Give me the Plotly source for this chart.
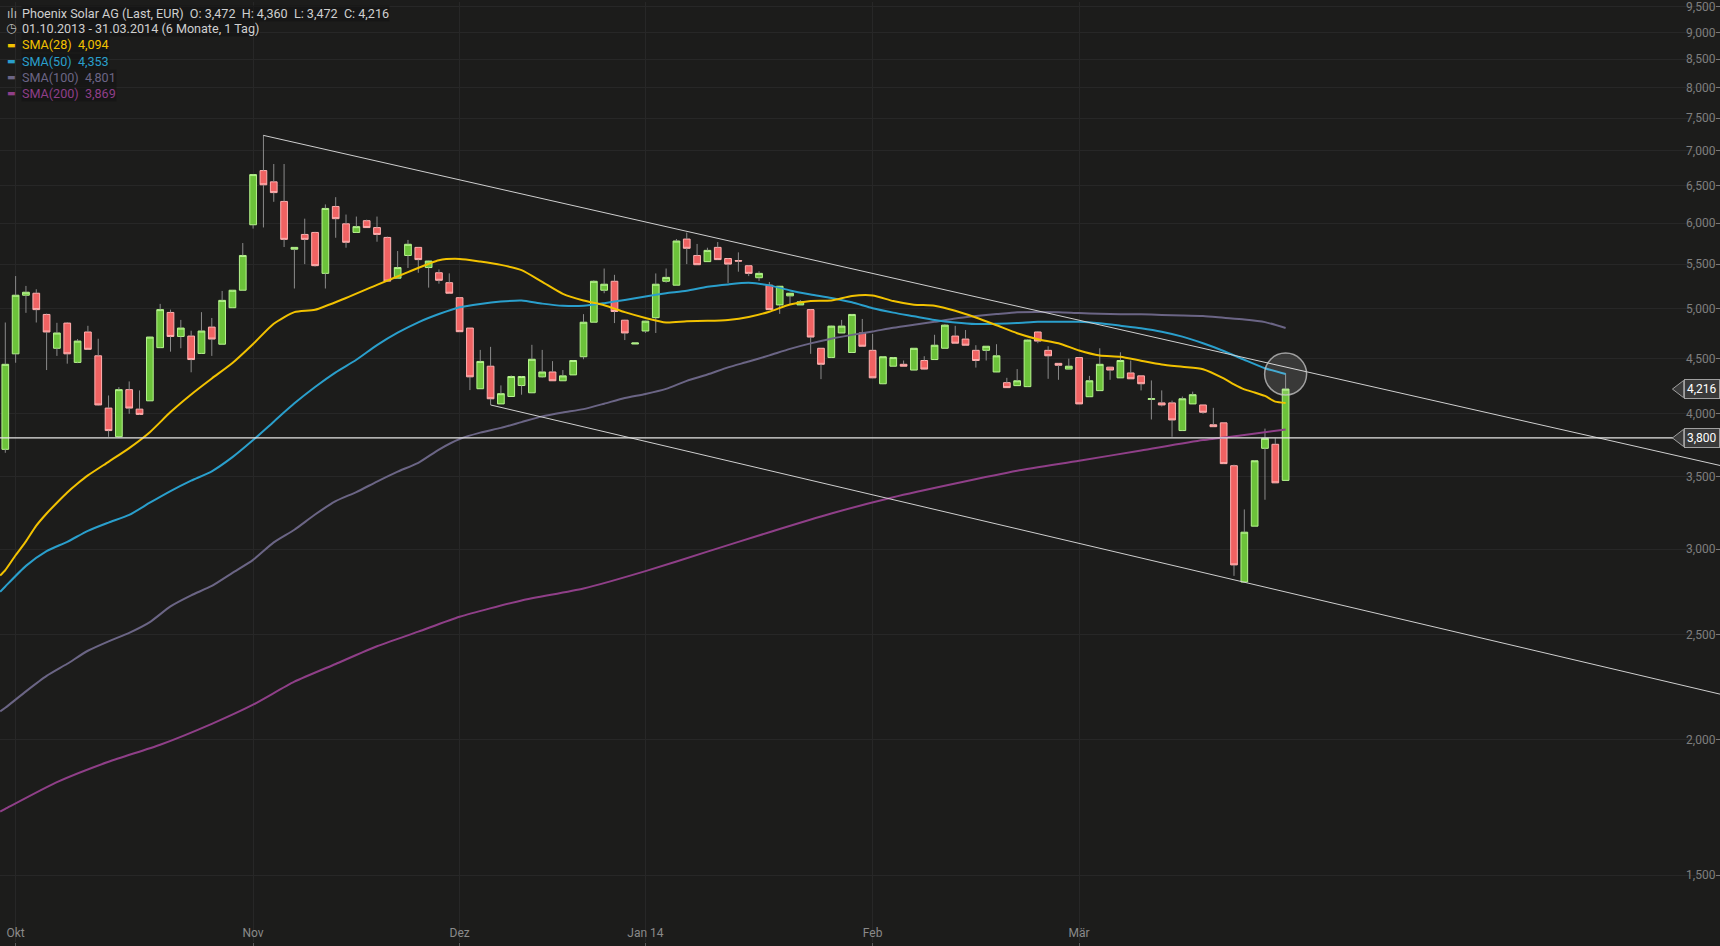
import math
import plotly.graph_objects as go

# ---------------- data (EUR) ----------------
OPEN = [3.709, 4.544, 5.147, 5.169, 4.941, 4.598, 4.851, 4.462, 4.760, 4.525,
        4.049, 3.810, 4.211, 4.040, 4.112, 4.604, 4.962, 4.715, 4.719, 4.548,
        4.810, 4.638, 5.012, 5.202, 5.979, 6.709, 6.550, 6.283, 5.676, 5.857,
        5.882, 5.392, 6.216, 5.991, 5.882, 6.031, 5.943, 5.820, 5.337, 5.601,
        5.698, 5.459, 5.399, 5.286, 5.120, 4.800, 4.219, 4.426, 4.085, 4.150,
        4.248, 4.183, 4.327, 4.372, 4.291, 4.345, 4.516, 4.860, 5.202, 5.302,
        4.881, 4.640, 4.770, 4.907, 5.302, 5.258, 5.800, 5.601, 5.528, 5.698,
        5.565, 5.540, 5.480, 5.342, 5.258, 5.042, 5.140, 5.042, 4.992, 4.598,
        4.508, 4.750, 4.557, 4.750, 4.578, 4.264, 4.426, 4.444, 4.390, 4.480,
        4.489, 4.598, 4.719, 4.689, 4.578, 4.578, 4.372, 4.274, 4.247, 4.238,
        4.760, 4.578, 4.453, 4.399, 4.508, 4.148, 4.202, 4.417, 4.318, 4.363,
        4.336, 4.125, 4.094, 4.094, 3.860, 4.085, 4.076, 3.908, 3.924, 3.582,
        2.797, 3.150, 3.717, 3.749, 3.472]
HIGH = [4.857, 5.361, 5.250, 5.213, 4.950, 4.854, 4.860, 4.689, 4.823, 4.692,
        4.159, 4.234, 4.285, 4.204, 4.712, 5.053, 4.992, 4.884, 4.773, 4.965,
        4.904, 5.194, 5.205, 5.751, 6.655, 7.237, 6.803, 6.803, 5.700, 6.057,
        5.890, 6.243, 6.340, 6.110, 6.084, 6.044, 6.084, 5.830, 5.654, 5.789,
        5.700, 5.540, 5.437, 5.392, 5.125, 4.800, 4.582, 4.612, 4.249, 4.340,
        4.335, 4.632, 4.582, 4.474, 4.390, 4.482, 4.944, 5.313, 5.448, 5.375,
        4.885, 4.652, 4.875, 5.391, 5.448, 5.800, 5.880, 5.740, 5.694, 5.763,
        5.570, 5.638, 5.485, 5.416, 5.294, 5.250, 5.170, 5.094, 4.995, 4.600,
        4.825, 4.884, 4.945, 4.894, 4.740, 4.520, 4.512, 4.480, 4.600, 4.521,
        4.732, 4.840, 4.823, 4.780, 4.628, 4.620, 4.638, 4.318, 4.399, 4.685,
        4.770, 4.618, 4.455, 4.498, 4.510, 4.336, 4.598, 4.420, 4.559, 4.480,
        4.340, 4.294, 4.204, 4.114, 4.150, 4.193, 4.078, 4.051, 3.926, 3.590,
        3.264, 3.625, 3.876, 3.797, 4.360]
LOW = [3.682, 4.459, 4.958, 4.857, 4.390, 4.524, 4.450, 4.455, 4.585, 4.070,
       3.809, 3.800, 4.000, 3.990, 4.110, 4.600, 4.565, 4.598, 4.369, 4.545,
       4.524, 4.635, 5.010, 5.200, 5.930, 5.945, 6.278, 5.702, 5.221, 5.499,
       5.470, 5.221, 5.816, 5.694, 5.880, 5.943, 5.767, 5.300, 5.330, 5.454,
       5.399, 5.231, 5.275, 5.160, 4.760, 4.207, 4.219, 4.076, 4.085, 4.150,
       4.166, 4.180, 4.320, 4.290, 4.290, 4.343, 4.492, 4.855, 5.169, 4.851,
       4.679, 4.638, 4.750, 4.750, 5.286, 5.255, 5.499, 5.490, 5.528, 5.550,
       5.283, 5.411, 5.361, 5.306, 4.990, 4.947, 5.042, 5.040, 4.544, 4.306,
       4.505, 4.750, 4.555, 4.615, 4.315, 4.260, 4.424, 4.424, 4.388, 4.390,
       4.487, 4.596, 4.645, 4.625, 4.413, 4.480, 4.370, 4.228, 4.246, 4.236,
       4.648, 4.309, 4.300, 4.397, 4.083, 4.146, 4.200, 4.300, 4.316, 4.307,
       4.204, 3.952, 4.063, 3.809, 3.858, 4.084, 4.000, 3.890, 3.596, 2.834,
       2.795, 3.148, 3.332, 3.452, 3.472]
CLOSE = [4.444, 5.147, 5.180, 4.992, 4.760, 4.750, 4.544, 4.669, 4.588, 4.076,
         3.860, 4.211, 4.049, 3.995, 4.709, 4.992, 4.715, 4.800, 4.489, 4.770,
         4.689, 5.091, 5.202, 5.601, 6.652, 6.509, 6.402, 5.796, 5.698, 5.796,
         5.481, 6.190, 6.057, 5.760, 5.955, 5.943, 5.857, 5.304, 5.459, 5.736,
         5.552, 5.535, 5.313, 5.169, 4.763, 4.327, 4.471, 4.130, 4.175, 4.330,
         4.330, 4.492, 4.372, 4.291, 4.336, 4.480, 4.860, 5.302, 5.269, 4.972,
         4.750, 4.650, 4.871, 5.269, 5.346, 5.776, 5.687, 5.492, 5.662, 5.552,
         5.499, 5.535, 5.392, 5.392, 4.992, 5.246, 5.169, 5.075, 4.709, 4.444,
         4.820, 4.820, 4.941, 4.618, 4.318, 4.516, 4.508, 4.426, 4.598, 4.399,
         4.628, 4.830, 4.648, 4.628, 4.480, 4.618, 4.525, 4.229, 4.291, 4.679,
         4.669, 4.525, 4.435, 4.426, 4.085, 4.291, 4.444, 4.390, 4.480, 4.309,
         4.264, 4.130, 4.076, 3.948, 4.130, 4.166, 4.013, 3.892, 3.598, 2.901,
         3.110, 3.620, 3.797, 3.454, 4.216]
DAYS = list(range(len(CLOSE)))

SMA28_X = [-0.5, 0, 1, 2, 3, 4, 5, 6, 7, 8, 10, 12, 14, 16, 18, 20, 22, 24, 26, 28, 30, 33, 36, 39,
           42, 44, 46, 48, 50, 52, 54, 56, 58, 60, 62, 64, 66, 68, 70, 72, 74, 76, 78, 80,
           82, 84, 86, 88, 90, 92, 94, 96, 98, 100, 102, 104, 106, 108, 110, 112, 114, 116,
           118, 119, 120, 121, 122, 123, 124]
SMA28_Y = [2.836, 2.869, 2.961, 3.050, 3.153, 3.236, 3.311, 3.384, 3.449, 3.509, 3.612, 3.719, 3.847,
           4.015, 4.168, 4.312, 4.456, 4.640, 4.844, 4.965, 4.990, 5.117, 5.262, 5.406, 5.544,
           5.560, 5.529, 5.490, 5.429, 5.295, 5.162, 5.089, 5.039, 4.965, 4.904, 4.857, 4.869,
           4.874, 4.884, 4.914, 4.970, 5.047, 5.084, 5.089, 5.139, 5.145, 5.084, 5.045, 5.033,
           4.980, 4.909, 4.829, 4.748, 4.688, 4.648, 4.577, 4.529, 4.516, 4.478, 4.442, 4.420,
           4.398, 4.312, 4.258, 4.213, 4.186, 4.155, 4.105, 4.094]

SMA_EVEN_X = [-0.5] + list(range(0, 125, 2))
SMA50_Y = [2.740, 2.771, 2.895, 2.987, 3.047, 3.119, 3.174, 3.226, 3.311, 3.394, 3.470, 3.540, 3.648,
           3.783, 3.934, 4.090, 4.235, 4.369, 4.487, 4.629, 4.753, 4.859, 4.945, 5.017, 5.053,
           5.078, 5.089, 5.056, 5.033, 5.033, 5.061, 5.095, 5.134, 5.168, 5.195, 5.240, 5.267,
           5.284, 5.256, 5.200, 5.156, 5.117, 5.070, 5.006, 4.960, 4.922, 4.884, 4.857, 4.841,
           4.844, 4.851, 4.864, 4.864, 4.864, 4.849, 4.824, 4.798, 4.763, 4.713, 4.647, 4.572,
           4.487, 4.407, 4.353]
SMA100_Y = [2.125, 2.141, 2.217, 2.291, 2.351, 2.417, 2.466, 2.511, 2.569, 2.656, 2.719, 2.774, 2.852,
            2.932, 3.043, 3.126, 3.229, 3.322, 3.387, 3.463, 3.537, 3.604, 3.707, 3.791, 3.843,
            3.882, 3.930, 3.978, 4.011, 4.040, 4.087, 4.137, 4.173, 4.218, 4.290, 4.348, 4.415,
            4.470, 4.529, 4.592, 4.646, 4.693, 4.731, 4.765, 4.803, 4.834, 4.864, 4.899, 4.924,
            4.945, 4.965, 4.967, 4.965, 4.955, 4.948, 4.942, 4.942, 4.936, 4.931, 4.924, 4.906,
            4.888, 4.861, 4.801]

SMA200_X = [-0.5, 0, 5, 10, 15, 20, 24, 28, 32, 36, 40, 44, 50, 56, 62, 68, 74, 80, 86, 92, 98, 104,
            110, 116, 120, 124]
SMA200_Y = [1.717, 1.727, 1.828, 1.909, 1.979, 2.069, 2.155, 2.263, 2.350, 2.440, 2.517, 2.598, 2.690,
            2.759, 2.863, 2.984, 3.110, 3.236, 3.350, 3.449, 3.544, 3.620, 3.700, 3.783, 3.823,
            3.869]

X_RANGE = [-0.513, 166.07]
UPPER_TREND_X = [25, 166.07]
UPPER_TREND_Y = [7.230, 3.584]
LOWER_TREND_X = [47, 166.07]
LOWER_TREND_Y = [4.076, 2.204]
SUPPORT_LEVEL = 3.800
LAST_CLOSE = 4.216
CIRCLE_X = [124]
CIRCLE_Y = [4.353]

MONTH_TICKS = [1, 24, 44, 62, 84, 104]
MONTH_LABELS = ["Okt", "Nov", "Dez", "Jan 14", "Feb", "Mär"]
Y_TICKS = [1.5, 2.0, 2.5, 3.0, 3.5, 4.0, 4.5, 5.0, 5.5, 6.0, 6.5, 7.0, 7.5, 8.0, 8.5, 9.0, 9.5]
Y_RANGE_LOG = [0.11435, 0.98231]

# ---------------- styling ----------------
BG = "#1c1c1b"
GRID = "#272727"
C28, C50, C100, C200 = "#f2c200", "#2a9fcc", "#6b6585", "#8f3f88"
FONT = "Roboto"
SP2 = "\u00a0\u00a0"

fig = go.Figure()

# wicks (only outside the bodies)
wx, wy = [], []
for i, o, h, l, c in zip(DAYS, OPEN, HIGH, LOW, CLOSE):
    top, bot = max(o, c), min(o, c)
    wx += [i, i, None, i, i, None]
    wy += [top, h, None, bot, l, None]
fig.add_trace(go.Scatter(x=wx, y=wy, mode="lines", line=dict(color="#8a8a8a", width=1),
                         hoverinfo="skip", showlegend=False))

# bodies
fig.add_trace(go.Candlestick(
    x=DAYS, open=OPEN, close=CLOSE,
    high=[max(o, c) for o, c in zip(OPEN, CLOSE)],
    low=[min(o, c) for o, c in zip(OPEN, CLOSE)],
    increasing=dict(fillcolor="#6cc23a", line=dict(color="#b6f58e", width=1)),
    decreasing=dict(fillcolor="#f06262", line=dict(color="#ffb1b1", width=1)),
    whiskerwidth=0, showlegend=False, hoverinfo="skip"))

# moving averages
for xs, ys, col in [(SMA200_X, SMA200_Y, C200), (SMA_EVEN_X, SMA100_Y, C100),
                    (SMA_EVEN_X, SMA50_Y, C50), (SMA28_X, SMA28_Y, C28)]:
    fig.add_trace(go.Scatter(x=xs, y=ys, mode="lines", line=dict(color=col, width=2, shape="spline",
                                                                   smoothing=0.6),
                             hoverinfo="skip", showlegend=False))

# trend lines
for xs, ys in [(UPPER_TREND_X, UPPER_TREND_Y), (LOWER_TREND_X, LOWER_TREND_Y)]:
    fig.add_trace(go.Scatter(x=xs, y=ys, mode="lines", line=dict(color="#cfcfcf", width=1),
                             hoverinfo="skip", showlegend=False))

# support line and label pointers on an overlay x axis (0..1 across the plot)
fig.add_trace(go.Scatter(x=[0, 0.9727], y=[SUPPORT_LEVEL, SUPPORT_LEVEL], xaxis="x2", mode="lines",
                         line=dict(color="#e6e6e6", width=1.2), hoverinfo="skip", showlegend=False))
fig.add_trace(go.Scatter(x=[0.9767, 0.9767], y=[LAST_CLOSE, SUPPORT_LEVEL], xaxis="x2",
                         mode="markers",
                         marker=dict(symbol="triangle-left", size=15, color="#3a3a3a",
                                     line=dict(color="#a0a0a0", width=1)),
                         hoverinfo="skip", showlegend=False))

# highlight circle
fig.add_trace(go.Scatter(x=CIRCLE_X, y=CIRCLE_Y, mode="markers",
                         marker=dict(symbol="circle", size=42, color="rgba(255,255,255,0.13)",
                                     line=dict(color="rgba(200,200,200,0.75)", width=1.5)),
                         hoverinfo="skip", showlegend=False))

annotations = []
for val in [LAST_CLOSE, SUPPORT_LEVEL]:
    annotations.append(dict(x=1, xref="paper", xanchor="right", y=math.log10(val), yref="y",
                            yanchor="middle", text=f"{val:.3f}".replace(".", ","),
                            showarrow=False, bgcolor="#3a3a3a", bordercolor="#a0a0a0",
                            borderwidth=1, borderpad=2,
                            font=dict(family=FONT, size=12, color="#ffffff")))

PH = 942.0


def py(px):
    return 1 - px / PH


title_txt = SP2.join(["Phoenix Solar AG (Last, EUR)", "O: 3,472", "H: 4,360", "L: 3,472", "C: 4,216"])
legend_lines = [
    (12.0, title_txt, "#cfcfcf", "ılı", "#bdbdbd"),
    (26.5, "01.10.2013 - 31.03.2014 (6 Monate, 1 Tag)", "#cfcfcf", "◷", "#bdbdbd"),
    (43.0, "SMA(28)" + SP2 + "4,094", C28, "▬", C28),
    (59.5, "SMA(50)" + SP2 + "4,353", C50, "▬", C50),
    (75.5, "SMA(100)" + SP2 + "4,801", C100, "▬", C100),
    (91.5, "SMA(200)" + SP2 + "3,869", C200, "▬", C200),
]
for ypx, txt, col, icon, icol in legend_lines:
    annotations.append(dict(x=21 / 1720, xref="paper", xanchor="left", y=py(ypx), yref="paper",
                            yanchor="middle", text=txt, showarrow=False,
                            bgcolor="rgba(18,18,18,0.55)", borderpad=0,
                            font=dict(family=FONT, size=12.6, color=col)))
    annotations.append(dict(x=11.5 / 1720, xref="paper", xanchor="center", y=py(ypx), yref="paper",
                            yanchor="middle", text=icon, showarrow=False,
                            font=dict(family="DejaVu Sans", size=9 if icon == "▬" else 12, color=icol)))

fig.update_layout(
    width=1720, height=946,
    margin=dict(l=0, r=0, t=0, b=4),
    paper_bgcolor=BG, plot_bgcolor=BG,
    separators=",.",
    font=dict(family=FONT, size=12, color="#8a8a8a"),
    showlegend=False,
    boxgap=0.35, boxgroupgap=0,
    xaxis=dict(range=X_RANGE, tickvals=MONTH_TICKS, ticktext=MONTH_LABELS,
               ticks="outside", ticklen=4, tickcolor="#5a5a5a",
               ticklabelposition="inside", tickfont=dict(size=12, color="#8a8a8a"),
               showgrid=True, gridcolor=GRID, gridwidth=1, zeroline=False, showline=False,
               rangeslider=dict(visible=False), fixedrange=True),
    xaxis2=dict(range=[0, 1], overlaying="x", visible=False, fixedrange=True),
    yaxis=dict(type="log", range=Y_RANGE_LOG, side="right", tickvals=Y_TICKS, tickformat=".3f",
               ticklabelposition="inside", ticks="inside", ticklen=4, tickcolor="#7a7a7a",
               ticklabeloverflow="allow",
               tickfont=dict(size=12, color="#7f7f7f"),
               showgrid=True, gridcolor=GRID, gridwidth=1, zeroline=False, showline=False,
               fixedrange=True),
    annotations=annotations,
)

fig.write_html(
    "out.html",
    config={"displayModeBar": False},
    post_script="document.body.style.margin='0px';document.body.style.overflow='hidden';"
                "document.documentElement.style.background='" + BG + "';",
)
